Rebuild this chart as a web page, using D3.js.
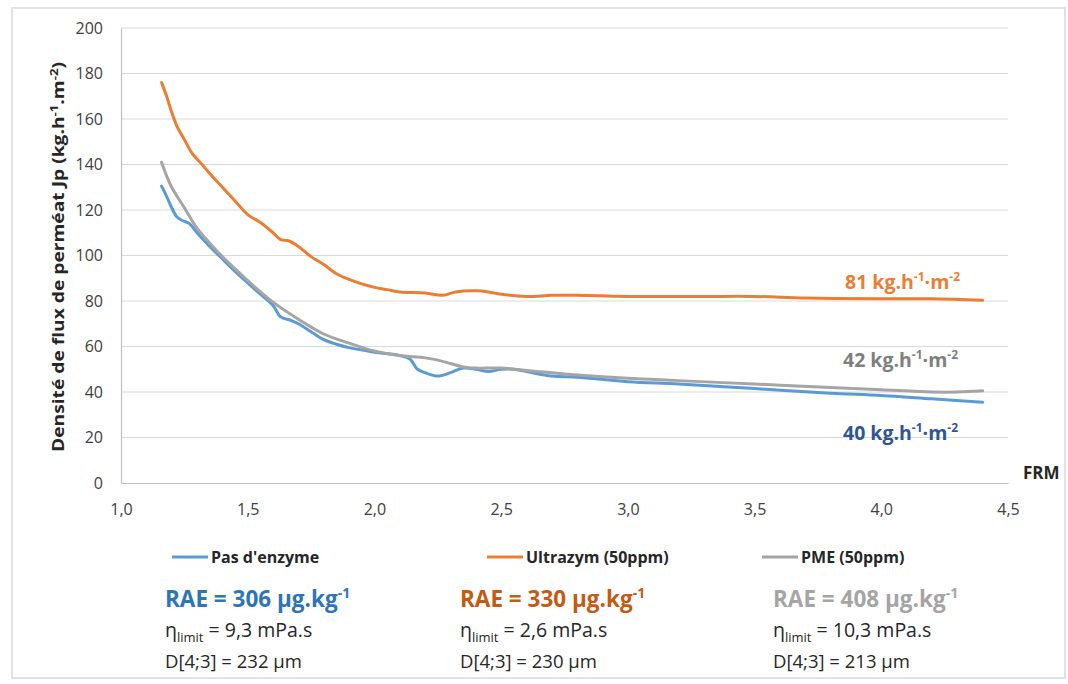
<!DOCTYPE html>
<html><head><meta charset="utf-8">
<script src="https://cdn.jsdelivr.net/npm/d3@7"></script>
<style>body{margin:0;background:#fff;} text{font-family:"Open Sans",Lato,sans-serif;}</style>
</head><body><svg id="c" width="1068" height="684"></svg>
<script>
const xTicks = [1.0,1.5,2.0,2.5,3.0,3.5,4.0,4.5];
const yTicks = [0,20,40,60,80,100,120,140,160,180,200];

const frmBlue = [1.16,1.18,1.2,1.22,1.24,1.27,1.3,1.35,1.4,1.45,1.5,1.55,1.6,1.63,1.67,1.7,1.75,1.8,1.85,1.9,2.0,2.1,2.14,2.17,2.2,2.25,2.3,2.35,2.4,2.45,2.5,2.55,2.6,2.7,2.8,3.0,3.2,3.5,3.8,4.0,4.2,4.4];
const blue = [130.5,126,121,117,115.5,114,110,104,98.5,93,88,83,78,73,71.5,70,66.5,63,61,59.5,57.5,56,54.5,50,48.5,47,48.5,50.5,50,49,50,50,49,47,46.5,44.5,43.5,41.5,39.5,38.5,37,35.5];

const frmOrange = [1.16,1.18,1.2,1.22,1.25,1.28,1.32,1.35,1.4,1.45,1.5,1.55,1.6,1.63,1.66,1.7,1.75,1.8,1.85,1.9,1.95,2.0,2.05,2.1,2.2,2.27,2.32,2.4,2.45,2.5,2.6,2.7,2.8,3.0,3.3,3.5,3.7,4.0,4.2,4.4];
const orange = [176,170,163,157,151,145,140,136,130,124,118,114.5,110,107,106.5,104,99.5,96,92,89.5,87.5,86,85,84,83.5,82.5,84,84.5,84,83,82,82.5,82.5,82,82,82,81.3,81,81,80.3];

const frmGray = [1.16,1.18,1.2,1.25,1.3,1.35,1.4,1.5,1.6,1.7,1.8,1.9,2.0,2.1,2.2,2.25,2.3,2.35,2.4,2.5,2.6,2.8,3.0,3.2,3.5,3.8,4.0,4.2,4.3,4.4];
const gray = [141,135,130,121,112,105.5,99.5,89,79.5,72,65.5,61.5,58,56,55,54,52.5,51,50.5,50.5,49.5,47.5,46,45,43.5,42,41,40,40,40.5];

const seriesNames = ["Pas d'enzyme","Ultrazym (50ppm)","PME (50ppm)"];
const endLabels = ["40","81","42"];
const raeVals = ["306","330","408"];
const etaVals = ["9,3","2,6","10,3"];
const dVals = ["232","230","213"];

const lineColors = ["#5B9BD5","#ED7D31","#A5A5A5"];
const textColors = ["#2E75B6","#C55A11","#A5A5A5"];
const labelColors = ["#2F5597","#ED7D31","#7F7F7F"];

const svg = d3.select("#c");
svg.append("rect").attr("x",12).attr("y",8).attr("width",1053).attr("height",670)
  .attr("fill","#fff").attr("stroke","#D9D9D9").attr("stroke-width",1.5);

const x = d3.scaleLinear().domain([1.0,4.5]).range([121,1008]);
const y = d3.scaleLinear().domain([0,200]).range([483,28]);

// gridlines
svg.append("g").selectAll("line").data(yTicks.filter(d=>d>0)).join("line")
  .attr("x1",121).attr("x2",1008).attr("y1",d=>y(d)).attr("y2",d=>y(d))
  .attr("stroke","#D9D9D9").attr("stroke-width",1);

// axes
const fmt = d=>d3.format(".1f")(d).replace(".",",");
const xa = svg.append("g").attr("transform","translate(0,483)")
  .call(d3.axisBottom(x).tickValues(xTicks).tickFormat(fmt).tickSize(0).tickPadding(21));
xa.select(".domain").attr("stroke","#BFBFBF").attr("stroke-width",1.2);
xa.selectAll("text").attr("font-size",16).attr("fill","#404040").style("font-family","Open Sans");

const ya = svg.append("g").attr("transform","translate(121,0)")
  .call(d3.axisLeft(y).tickValues(yTicks).tickSize(0).tickPadding(18));
ya.select(".domain").attr("stroke","#BFBFBF").attr("stroke-width",1.2);
ya.selectAll("text").attr("font-size",16).attr("fill","#404040").style("font-family","Open Sans");

svg.append("text").attr("transform","translate(64,257) rotate(-90)")
  .attr("text-anchor","middle").attr("font-size",16).attr("font-weight","bold").attr("fill","#262626")
  .attr("textLength",390).attr("lengthAdjust","spacingAndGlyphs")
  .html('Densité de flux de perméat Jp (kg.h<tspan dy="-6" font-size="11">-1</tspan><tspan dy="6">.m</tspan><tspan dy="-6" font-size="11">-2</tspan><tspan dy="6">)</tspan>');

svg.append("text").attr("x",1023).attr("y",479).attr("font-size",17).attr("font-weight","bold").attr("fill","#262626").text("FRM");

// lines
const data = [
  d3.zip(frmBlue, blue),
  d3.zip(frmOrange, orange),
  d3.zip(frmGray, gray)
];
const line = d3.line().x(d=>x(d[0])).y(d=>y(d[1])).curve(d3.curveCatmullRom.alpha(0.5));
svg.append("g").selectAll("path").data(data).join("path")
  .attr("d",line).attr("fill","none")
  .attr("stroke",(d,i)=>lineColors[i]).attr("stroke-width",3).attr("stroke-linejoin","round").attr("stroke-linecap","round");

// end labels
const labelPos = [{x:843,y:440},{x:845,y:289},{x:843,y:367}];
endLabels.forEach((v,i)=>{
  svg.append("text").attr("x",labelPos[i].x).attr("y",labelPos[i].y)
    .attr("font-size",19.5).attr("font-weight","bold").attr("fill",labelColors[i])
    .html(v+' kg.h<tspan dy="-8" font-size="12">-1</tspan><tspan dy="8">·m</tspan><tspan dy="-8" font-size="12">-2</tspan>');
});

// legend and info
const colX = [165,460,773];
const legX = [172,487,762];
seriesNames.forEach((n,i)=>{
  svg.append("line").attr("x1",legX[i]).attr("x2",legX[i]+36).attr("y1",557).attr("y2",557)
    .attr("stroke",lineColors[i]).attr("stroke-width",3);
  svg.append("text").attr("x",legX[i]+39).attr("y",563).attr("font-size",16).attr("font-weight","bold")
    .attr("fill","#262626").text(n);
  svg.append("text").attr("x",colX[i]).attr("y",607).attr("font-size",22.5).attr("font-weight","bold")
    .attr("fill",textColors[i])
    .html('RAE = '+raeVals[i]+' µg.kg<tspan dy="-9" font-size="14">-1</tspan>');
  svg.append("text").attr("x",colX[i]).attr("y",637).attr("font-size",19.5).attr("fill","#262626")
    .html('η<tspan dy="5" font-size="13">limit</tspan><tspan dy="-5"> = '+etaVals[i]+' mPa.s</tspan>');
  svg.append("text").attr("x",colX[i]).attr("y",668).attr("font-size",18.5).attr("fill","#262626")
    .text('D[4;3] = '+dVals[i]+' µm');
});
</script></body></html>
